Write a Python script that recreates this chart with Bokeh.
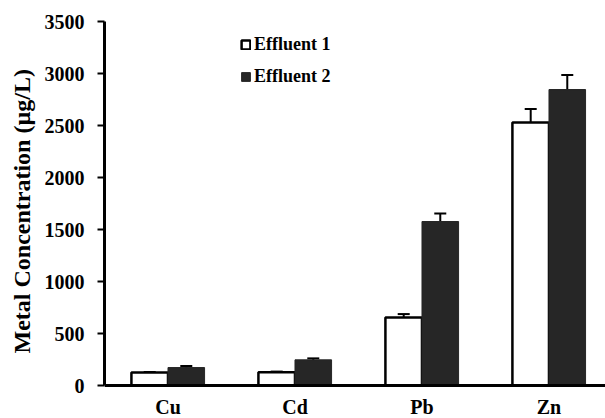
import numpy as np
from bokeh.plotting import figure
from bokeh.models import (Range1d, ColumnDataSource, Whisker, TeeHead, Legend,
                          LegendItem, Span, FixedTicker, Title)
from bokeh.core.properties import value
from bokeh.embed import file_html
from bokeh.resources import INLINE

categories = ["Cu", "Cd", "Pb", "Zn"]
effluent1 = [125, 128, 654, 2529]
effluent1_err = [6, 6, 33, 130]
effluent2 = [173, 247, 1577, 2846]
effluent2_err = [15, 14, 77, 140]
y_ticks = [0, 500, 1000, 1500, 2000, 2500, 3000, 3500]

FONT = "Liberation Serif"
DARK = "#262626"

centers = np.arange(len(categories)) + 0.5
off = 0.144
bw = 0.288

p = figure(width=605, height=418, output_backend="svg", toolbar_location=None,
           x_range=Range1d(0, 3.945), y_range=Range1d(-317, 3500),
           x_axis_location=None)
p.min_border_left = 104
p.min_border_top = 21
p.min_border_bottom = 0
p.min_border_right = 0
p.outline_line_color = None
p.xgrid.visible = False
p.ygrid.visible = False

src = ColumnDataSource(dict(
    x1=centers - off, x2=centers + off,
    e1=effluent1, e2=effluent2,
    e1u=[v + e for v, e in zip(effluent1, effluent1_err)],
    e1l=[v - e for v, e in zip(effluent1, effluent1_err)],
    e2u=[v + e for v, e in zip(effluent2, effluent2_err)],
    e2l=[v - e for v, e in zip(effluent2, effluent2_err)],
    cx=centers, zero=[0] * len(categories), cat=categories,
))

r1 = p.vbar(x="x1", top="e1", bottom=0, width=bw, source=src,
            fill_color="white", line_color="black", line_width=2.5)
r2 = p.vbar(x="x2", top="e2", bottom=0, width=bw, source=src,
            fill_color=DARK, line_color=DARK, line_width=1)

for b, u, l in (("x1", "e1u", "e1l"), ("x2", "e2u", "e2l")):
    w = Whisker(source=src, base=b, upper=u, lower=l, dimension="height",
                line_color="black", line_width=2,
                upper_head=TeeHead(size=12, line_width=2, line_color="black"),
                lower_head=TeeHead(size=12, line_width=2, line_color="black"))
    p.add_layout(w)

p.add_layout(Span(location=0, dimension="width", line_color="black", line_width=3))

p.text(x="cx", y="zero", text="cat", source=src, text_align="center",
       text_baseline="bottom", y_offset=32,
       text_font=value(FONT), text_font_style="bold", text_font_size="20px",
       text_color="black")

ax = p.yaxis[0]
ax.bounds = (0, 3500)
ax.ticker = FixedTicker(ticks=y_ticks)
ax.axis_line_width = 3
ax.axis_line_color = "black"
ax.major_tick_out = 7
ax.major_tick_in = 0
ax.major_tick_line_width = 2
ax.minor_tick_out = 0
ax.minor_tick_in = 0
ax.major_label_standoff = 13
ax.major_label_text_font = FONT
ax.major_label_text_font_style = "bold"
ax.major_label_text_font_size = "20px"
ax.major_label_text_color = "black"

ylab = Title(text="Metal Concentration (µg/L)", align="left", offset=65,
             text_font=FONT, text_font_style="bold", text_font_size="24px",
             text_color="black", standoff=13)
p.add_layout(ylab, "left")

legend = Legend(items=[LegendItem(label="Effluent 1", renderers=[r1]),
                       LegendItem(label="Effluent 2", renderers=[r2])],
                location=(136, 331), orientation="vertical",
                glyph_width=11, glyph_height=11, label_standoff=3,
                label_height=20, spacing=11, padding=0, margin=0,
                border_line_color=None, background_fill_alpha=0,
                label_text_font=FONT, label_text_font_style="bold",
                label_text_font_size="18px", label_text_color="black")
p.add_layout(legend)

open("out.html", "w").write(file_html(p, INLINE))
